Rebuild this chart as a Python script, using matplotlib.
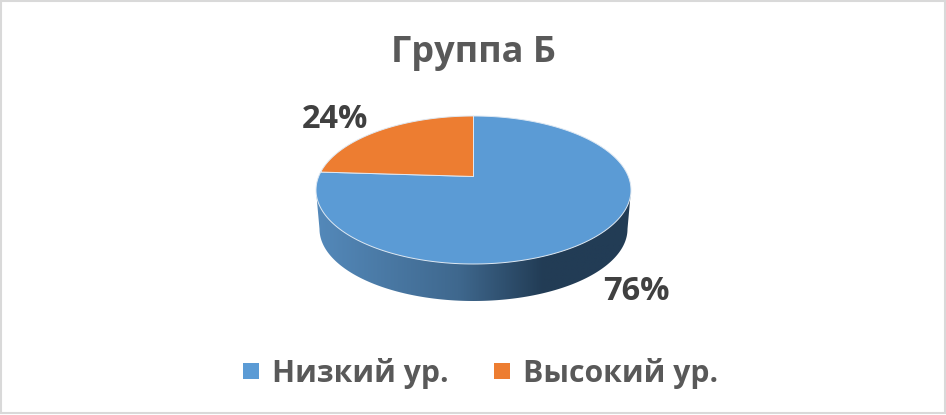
import matplotlib
matplotlib.use('Agg')
import matplotlib.pyplot as plt
from matplotlib.lines import Line2D
from matplotlib.patches import Polygon, Rectangle
from matplotlib.colors import LinearSegmentedColormap
import numpy as np

title = 'Группа Б'
categories = ['Низкий ур.', 'Высокий ур.']
values = [76, 24]
colors = ['#5B9BD5', '#ED7D31']

# Pie geometry in pixels of the picture
cx, cy = 473.5, 190
rx, ry = 157.5, 74
apex_shift = 13.5
depth_cy, depth_rx, depth_ry = 229, 154, 72

plt.rcParams['font.family'] = ['Open Sans', 'DejaVu Sans']

fig = plt.figure(figsize=(9.46, 4.15), dpi=100)
ax = fig.add_axes([0, 0, 1, 1])
ax.axis('off')

# outer frame of the chart
ax.add_patch(Rectangle((1, 1), 944, 412, fill=False, edgecolor='#d9d9d9', linewidth=1.5))


def project(theta):
    # theta is clockwise from 12 o'clock; perspective moves the centre up
    k = apex_shift / ry
    a = rx * np.sqrt(1 - k ** 2)
    u, v = np.sin(theta), np.cos(theta)
    w = 1 + k * v
    return cx + a * u / w, cy - (ry * v + apex_shift) / w


# side of the pie with horizontal gradient
lower = np.linspace(np.pi, 0, 181)
side_x = np.r_[cx - rx, cx + depth_rx * np.cos(lower), cx + rx]
side_y = np.r_[cy, depth_cy + depth_ry * np.sin(lower), cy]
side = Polygon(np.c_[side_x, side_y], closed=True, facecolor='none', edgecolor='none')
ax.add_patch(side)
cmap = LinearSegmentedColormap.from_list('side', [(0, '#5489BA'), (0.45, '#3F688E'), (0.72, '#223C55'), (1, '#223C55')])
grad = ax.imshow(np.linspace(0, 1, 256)[None, :], cmap=cmap, aspect='auto',
                 extent=(cx - rx, cx + rx, depth_cy + depth_ry, cy), zorder=2)
grad.set_clip_path(side)
ax.set_xlim(0, 946)
ax.set_ylim(415, 0)

# top face, slices clockwise from 12 o'clock
ends = np.cumsum(values) / np.sum(values) * 2 * np.pi
starts = np.r_[0, ends[:-1]]
apex = (cx, cy - apex_shift)
for s, e, c in zip(starts, ends, colors):
    th = np.linspace(s, e, 200)
    px, py = project(th)
    pts = np.vstack([apex, np.c_[px, py]])
    ax.add_patch(Polygon(pts, closed=True, facecolor=c, edgecolor='#dfe9f3', linewidth=0.7, zorder=3))

# labels
ax.text(473, 53, title, color='#595959', fontsize=26, fontweight='bold', ha='center', va='center')
label_pos = [(636, 291), (335, 119)]
for v, (lx, ly) in zip(values, label_pos):
    ax.text(lx, ly, f'{v}%', color='#404040', fontsize=23.5, fontweight='bold', ha='center', va='center')

handles = [Line2D([], [], linestyle='none', marker='s', markersize=11.5, color=c, markeredgewidth=0) for c in colors]
ax.legend(handles, categories, loc='center', bbox_to_anchor=(477 / 946, 1 - 373 / 415), ncol=2, frameon=False,
          prop={'size': 21.7, 'weight': 'bold'}, labelcolor='#595959', handletextpad=0.2, columnspacing=1.25,
          handlelength=1.0, borderpad=0, borderaxespad=0)

fig.savefig('out.png', dpi=100)
